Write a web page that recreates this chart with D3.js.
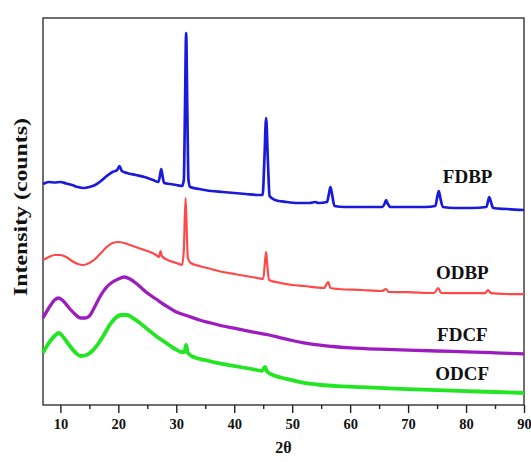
<!DOCTYPE html>
<html>
<head>
<meta charset="utf-8">
<script src="https://cdn.jsdelivr.net/npm/d3@7"></script>
<style>
  html, body { margin: 0; padding: 0; background: #fff; }
  svg { display: block; }
  text { font-family: "Liberation Serif", "Times New Roman", serif; font-weight: bold; fill: #111; }
</style>
</head>
<body>
<svg id="chart" width="531" height="462"></svg>
<script>
// ---- Data (2θ in degrees, intensity in arbitrary counts) ----
const xTicks = [10, 20, 30, 40, 50, 60, 70, 80, 90];
const xMinorTicks = [15, 25, 35, 45, 55, 65, 75, 85];
const seriesNames = ["FDBP", "ODBP", "FDCF", "ODCF"];

const fdbpTheta = [7.0, 8.0, 9.0, 10.0, 11.0, 12.0, 13.0, 14.0, 15.0, 16.0, 17.0, 18.0, 19.0, 19.8, 20.2, 20.6, 21.5, 23.0, 24.5, 26.0, 26.9, 27.2, 27.4, 27.6, 27.9, 29.0, 30.0, 31.0, 31.3, 31.5, 31.7, 31.9, 32.1, 32.4, 34.0, 36.0, 38.0, 40.0, 42.0, 44.0, 44.9, 45.2, 45.5, 45.8, 46.1, 47.0, 49.0, 51.0, 53.0, 54.0, 54.5, 56.0, 56.3, 56.6, 56.9, 57.3, 59.0, 62.0, 65.5, 66.0, 66.2, 66.5, 67.0, 70.0, 73.0, 74.7, 75.0, 75.3, 75.6, 76.0, 78.0, 81.0, 83.5, 83.8, 84.0, 84.3, 84.7, 87.0, 90.0];
const fdbpCounts = [2210, 2230, 2225, 2230, 2215, 2200, 2180, 2170, 2180, 2200, 2240, 2290, 2330, 2350, 2390, 2340, 2320, 2300, 2280, 2250, 2230, 2300, 2360, 2300, 2220, 2210, 2200, 2190, 2250, 2950, 3720, 2950, 2250, 2180, 2160, 2140, 2130, 2120, 2110, 2100, 2100, 2450, 2870, 2450, 2090, 2050, 2030, 2020, 2020, 2030, 2020, 2030, 2100, 2180, 2100, 1990, 1980, 1980, 1980, 2020, 2050, 2010, 1980, 1980, 1980, 1990, 2070, 2140, 2060, 1980, 1970, 1970, 1980, 2040, 2080, 2030, 1970, 1960, 1950];

const odbpTheta = [7.0, 8.0, 9.0, 10.0, 11.0, 12.0, 13.0, 14.0, 15.0, 16.0, 17.0, 18.0, 19.0, 20.0, 21.0, 22.0, 23.5, 25.0, 26.5, 27.0, 27.3, 27.5, 28.5, 30.0, 31.0, 31.3, 31.6, 31.8, 32.0, 32.5, 34.0, 36.0, 38.0, 40.0, 42.0, 44.0, 45.0, 45.3, 45.5, 45.7, 46.0, 48.0, 50.0, 52.0, 55.5, 56.2, 56.6, 58.0, 62.0, 65.5, 66.2, 66.6, 70.0, 74.5, 75.2, 75.7, 79.0, 83.3, 83.8, 84.3, 87.0, 90.0];
const odbpCounts = [1450, 1480, 1500, 1500, 1480, 1440, 1410, 1400, 1420, 1460, 1520, 1580, 1620, 1630, 1620, 1600, 1570, 1540, 1500, 1480, 1540, 1490, 1450, 1420, 1400, 1550, 2070, 1750, 1470, 1420, 1390, 1360, 1330, 1310, 1290, 1270, 1260, 1430, 1530, 1400, 1250, 1220, 1200, 1190, 1170, 1230, 1170, 1160, 1150, 1140, 1160, 1130, 1128, 1120, 1170, 1120, 1118, 1118, 1150, 1118, 1110, 1108];

const fdcfTheta = [7.0, 8.0, 9.0, 9.7, 10.5, 11.5, 12.5, 13.5, 14.3, 15.0, 16.0, 17.0, 18.0, 19.0, 20.0, 21.0, 22.0, 23.0, 24.0, 25.0, 26.5, 28.0, 30.0, 32.0, 34.0, 36.0, 38.0, 40.0, 42.0, 44.0, 46.0, 48.0, 50.0, 52.0, 54.0, 57.0, 60.0, 65.0, 70.0, 75.0, 80.0, 85.0, 90.0];
const fdcfCounts = [870, 970, 1050, 1070, 1040, 970, 910, 870, 870, 890, 990, 1100, 1180, 1230, 1260, 1280, 1260, 1220, 1170, 1120, 1060, 1000, 930, 890, 850, 820, 790, 768, 744, 722, 700, 672, 645, 622, 603, 585, 572, 558, 548, 540, 532, 522, 512];

const odcfTheta = [7.0, 8.0, 9.0, 9.7, 10.5, 11.5, 12.5, 13.5, 14.5, 15.5, 16.5, 17.5, 18.5, 19.5, 20.5, 21.5, 22.5, 23.5, 25.0, 26.5, 28.0, 29.5, 31.0, 31.4, 31.7, 32.0, 33.0, 35.0, 37.0, 39.0, 41.0, 43.0, 44.8, 45.3, 45.7, 47.0, 49.0, 51.0, 53.0, 55.0, 58.0, 62.0, 66.0, 70.0, 75.0, 80.0, 85.0, 90.0];
const odcfCounts = [520, 620, 690, 720, 680, 600, 530, 490, 500, 540, 610, 700, 800, 870, 900, 900, 870, 830, 760, 690, 630, 570, 530, 530, 600, 520, 480, 450, 422, 400, 380, 360, 342, 380, 332, 292, 262, 234, 213, 200, 188, 178, 168, 158, 148, 139, 130, 120];

// ---- Layout & styles ----
const svg = d3.select("#chart");
const m = { left: 43, right: 524, top: 18, bottom: 405 };
const x = d3.scaleLinear().domain([7, 90]).range([m.left, m.right]);
const y = d3.scaleLinear().domain([0, 3870]).range([m.bottom, m.top]);

const series = [
  { name: seriesNames[0], theta: fdbpTheta, counts: fdbpCounts, color: "#1a1adb", width: 2.7 },
  { name: seriesNames[1], theta: odbpTheta, counts: odbpCounts, color: "#ff4848", width: 2.2 },
  { name: seriesNames[2], theta: fdcfTheta, counts: fdcfCounts, color: "#9d1cbf", width: 3.3 },
  { name: seriesNames[3], theta: odcfTheta, counts: odcfCounts, color: "#22e622", width: 3.8 }
];
// label anchor positions (data coords) kept separate from data values
const labelPos = [
  { t: 76.0, v: 2220 },
  { t: 74.8, v: 1260 },
  { t: 75.0, v: 640 },
  { t: 74.7, v: 250 }
];

// frame
svg.append("rect")
  .attr("x", m.left).attr("y", m.top)
  .attr("width", m.right - m.left).attr("height", m.bottom - m.top)
  .attr("fill", "none").attr("stroke", "#333").attr("stroke-width", 1.4);

// curves
const line = d3.line()
  .x(d => x(d[0])).y(d => y(d[1]))
  .curve(d3.curveMonotoneX);

series.forEach(s => {
  const pts = s.theta.map((t, i) => [t, s.counts[i]]);
  svg.append("path")
    .datum(pts)
    .attr("d", line)
    .attr("fill", "none")
    .attr("stroke", s.color)
    .attr("stroke-width", s.width)
    .attr("stroke-linejoin", "round");
});

// x axis (major + minor)
const gx = svg.append("g").attr("transform", `translate(0,${m.bottom})`)
  .call(d3.axisBottom(x).tickValues(xTicks).tickSize(8).tickSizeOuter(0));
gx.select(".domain").remove();
gx.selectAll(".tick line").attr("stroke", "#222").attr("stroke-width", 1.4);
gx.selectAll(".tick text")
  .attr("y", 24).attr("dy", 0)
  .style("font-size", "14.5px").style("font-family", "'Liberation Serif', serif")
  .style("font-weight", "bold").attr("fill", "#111");

const gm = svg.append("g").attr("transform", `translate(0,${m.bottom})`)
  .call(d3.axisBottom(x).tickValues(xMinorTicks).tickSize(4).tickFormat(""));
gm.select(".domain").remove();
gm.selectAll(".tick line").attr("stroke", "#222").attr("stroke-width", 1.4);

// axis titles
svg.append("text")
  .attr("x", (m.left + m.right) / 2 + 0).attr("y", 453)
  .attr("text-anchor", "middle")
  .style("font-size", "16px")
  .text("2θ");

svg.append("text")
  .attr("transform", "translate(27,207) rotate(-90)")
  .attr("text-anchor", "middle")
  .attr("textLength", 178)
  .attr("lengthAdjust", "spacingAndGlyphs")
  .style("font-size", "18px")
  .text("Intensity (counts)");

// series labels
series.forEach((s, i) => {
  svg.append("text")
    .attr("x", x(labelPos[i].t)).attr("y", y(labelPos[i].v))
    .style("font-size", "19px")
    .text(s.name);
});
</script>
</body>
</html>
